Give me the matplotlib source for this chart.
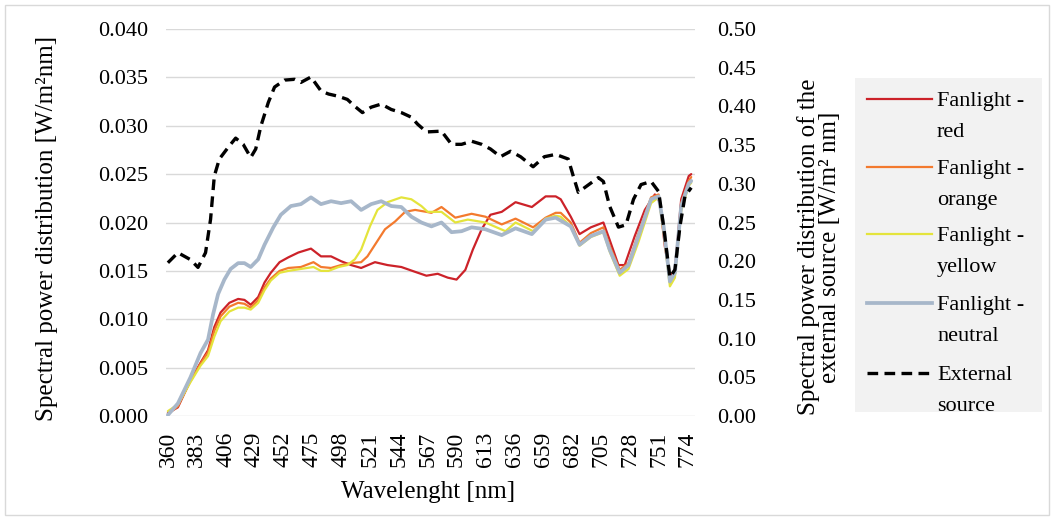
import matplotlib
matplotlib.use("Agg")
import matplotlib.pyplot as plt
from matplotlib.lines import Line2D
from matplotlib.patches import Rectangle

plt.rcParams["font.family"] = ["Liberation Serif", "DejaVu Serif"]

# wavelength [nm] / value pairs, one set per series
red_wl = [360, 368, 378, 386, 392, 397, 402, 409, 416, 421, 426, 432, 437, 442, 449, 456, 464, 474, 482, 490,
          498, 506, 514, 525, 535, 546, 557, 566, 575, 583, 590, 597, 603, 610, 617, 626, 637, 650, 661, 669,
          673, 681, 688, 697, 707, 712, 719, 724, 732, 740, 748, 752, 756, 760, 764, 769, 775, 777]
red_val = [0.0003, 0.0009, 0.0037, 0.0055, 0.0068, 0.0092, 0.0107, 0.0117, 0.0121, 0.0120,
           0.0115, 0.0123, 0.0138, 0.0148, 0.0159, 0.0164, 0.0169, 0.0173, 0.0165, 0.0165,
           0.0160, 0.0156, 0.0153, 0.0159, 0.0156, 0.0154, 0.0149, 0.0145, 0.0147, 0.0143,
           0.0141, 0.0151, 0.0172, 0.0193, 0.0208, 0.0211, 0.0221, 0.0216, 0.0227, 0.0227,
           0.0224, 0.0206, 0.0188, 0.0195, 0.0200, 0.0182, 0.0156, 0.0156, 0.0186, 0.0213,
           0.0229, 0.0221, 0.0175, 0.0144, 0.0151, 0.0224, 0.0248, 0.0250]

orange_wl = [360, 368, 378, 386, 392, 397, 402, 409, 416, 421, 426, 432, 437, 442, 449, 456, 466, 476, 482, 490,
             498, 506, 514, 519, 525, 533, 541, 549, 557, 566, 570, 578, 589, 602, 613, 626, 637, 651, 661, 669,
             673, 681, 688, 697, 707, 712, 720, 727, 735, 745, 751, 755, 760, 764, 769, 775, 777]
orange_val = [0.0002, 0.0010, 0.0036, 0.0054, 0.0066, 0.0088, 0.0103, 0.0113, 0.0117, 0.0116,
              0.0112, 0.0120, 0.0133, 0.0142, 0.0150, 0.0153, 0.0154, 0.0159, 0.0154, 0.0153,
              0.0156, 0.0158, 0.0159, 0.0165, 0.0177, 0.0193, 0.0201, 0.0211, 0.0213, 0.0211,
              0.0210, 0.0216, 0.0205, 0.0209, 0.0206, 0.0198, 0.0204, 0.0195, 0.0205, 0.0210,
              0.0210, 0.0200, 0.0179, 0.0189, 0.0195, 0.0176, 0.0151, 0.0158, 0.0189, 0.0226,
              0.0229, 0.0196, 0.0140, 0.0149, 0.0220, 0.0243, 0.0247]

yellow_wl = [360, 368, 378, 386, 392, 397, 402, 409, 416, 421, 426, 432, 437, 442, 449, 456, 466, 476, 482, 488,
             496, 503, 509, 514, 521, 527, 535, 546, 554, 562, 567, 578, 589, 599, 613, 629, 637, 651, 661, 669,
             673, 681, 688, 697, 707, 712, 720, 727, 735, 745, 751, 755, 760, 764, 769, 775, 777]
yellow_val = [0.0005, 0.0012, 0.0035, 0.0052, 0.0062, 0.0082, 0.0098, 0.0108, 0.0112, 0.0112,
              0.0110, 0.0117, 0.0130, 0.0140, 0.0148, 0.0150, 0.0152, 0.0154, 0.0150, 0.0150,
              0.0154, 0.0156, 0.0162, 0.0172, 0.0196, 0.0213, 0.0221, 0.0226, 0.0224, 0.0217,
              0.0211, 0.0211, 0.0200, 0.0203, 0.0200, 0.0191, 0.0200, 0.0191, 0.0204, 0.0207,
              0.0206, 0.0196, 0.0176, 0.0185, 0.0190, 0.0170, 0.0145, 0.0152, 0.0180, 0.0220,
              0.0226, 0.0190, 0.0134, 0.0143, 0.0212, 0.0238, 0.0241]

neutral_wl = [360, 368, 378, 386, 392, 396, 400, 405, 410, 416, 421, 426, 432, 437, 444, 450, 458, 466, 474, 482,
              490, 498, 506, 514, 522, 530, 538, 546, 554, 562, 570, 578, 586, 594, 602, 613, 626, 637, 650, 661,
              669, 681, 688, 697, 707, 712, 720, 727, 735, 745, 751, 755, 760, 764, 769, 775, 777]
neutral_val = [0.0001, 0.0013, 0.0040, 0.0065, 0.0079, 0.0105, 0.0126, 0.0141, 0.0152, 0.0158,
               0.0158, 0.0154, 0.0162, 0.0177, 0.0195, 0.0208, 0.0217, 0.0219, 0.0226, 0.0219,
               0.0222, 0.0220, 0.0222, 0.0213, 0.0219, 0.0222, 0.0217, 0.0216, 0.0206, 0.0200,
               0.0196, 0.0200, 0.0190, 0.0191, 0.0195, 0.0193, 0.0187, 0.0194, 0.0188, 0.0203,
               0.0205, 0.0196, 0.0177, 0.0186, 0.0191, 0.0172, 0.0148, 0.0156, 0.0186, 0.0224,
               0.0227, 0.0196, 0.0139, 0.0148, 0.0217, 0.0240, 0.0243]

# external source, right axis
ext_wl = [360, 368, 378, 384, 390, 394, 397, 401, 408, 414, 420, 426, 430, 434, 440, 445, 453, 461, 466, 474,
          482, 488, 496, 503, 509, 515, 522, 530, 538, 546, 554, 559, 566, 578, 586, 594, 602, 610, 617, 625,
          633, 641, 651, 660, 669, 679, 683, 687, 692, 703, 707, 712, 719, 725, 731, 737, 745, 751, 755, 760,
          764, 768, 772, 777]
ext_val = [0.198, 0.211, 0.202, 0.192, 0.211, 0.254, 0.310, 0.332, 0.347, 0.359,
           0.351, 0.334, 0.345, 0.374, 0.405, 0.425, 0.434, 0.435, 0.431, 0.438,
           0.420, 0.416, 0.413, 0.409, 0.400, 0.392, 0.399, 0.403, 0.396, 0.392,
           0.386, 0.377, 0.367, 0.368, 0.351, 0.351, 0.355, 0.351, 0.345, 0.335,
           0.342, 0.335, 0.322, 0.335, 0.338, 0.332, 0.310, 0.289, 0.295, 0.308,
           0.303, 0.271, 0.244, 0.247, 0.280, 0.299, 0.303, 0.290, 0.245, 0.179,
           0.189, 0.245, 0.284, 0.295]

x_ticks = [360, 383, 406, 429, 452, 475, 498, 521, 544, 567, 590, 613, 636, 659, 682, 705, 728, 751, 774]
left_ticks = [0.000, 0.005, 0.010, 0.015, 0.020, 0.025, 0.030, 0.035, 0.040]
right_ticks = [0.00, 0.05, 0.10, 0.15, 0.20, 0.25, 0.30, 0.35, 0.40, 0.45, 0.50]

legend_labels = ["Fanlight -\nred", "Fanlight -\norange", "Fanlight -\nyellow",
                 "Fanlight -\nneutral", "External\nsource"]

W, H = 1054, 520
fig = plt.figure(figsize=(W / 100, H / 100), dpi=100)
fig.patches.append(Rectangle((5 / W, 5 / H), 1 - 10 / W, 1 - 10 / H, transform=fig.transFigure,
                             fill=False, edgecolor="#d9d9d9", lw=1))

ax = fig.add_axes([166 / W, 1 - 416 / H, (695 - 166) / W, (416 - 29) / H])

styles = [
    dict(color="#cc2229", lw=1.6),
    dict(color="#f37a2e", lw=1.6),
    dict(color="#e4e43c", lw=1.6),
    dict(color="#a7b7ca", lw=2.7),
    dict(color="black", lw=2.4, ls=(0, (3.2, 1.9)), dash_capstyle="butt"),
]

for wl, val, st in zip([red_wl, orange_wl, yellow_wl, neutral_wl],
                       [red_val, orange_val, yellow_val, neutral_val], styles):
    ax.plot(wl, val, solid_capstyle="round", **st)

ax.set_xlim(358.5, 780)
ax.set_ylim(0, 0.04)
ax.set_xticks(x_ticks)
ax.set_xticklabels([str(v) for v in x_ticks], rotation=90, fontsize=17)
ax.set_yticks(left_ticks)
ax.set_yticklabels([f"{v:.3f}" for v in left_ticks], fontsize=16)
ax.yaxis.grid(True, color="#d9d9d9", lw=1)
ax.set_axisbelow(True)
for s in ax.spines.values():
    s.set_visible(False)
ax.tick_params(axis="y", length=0, pad=13)
ax.tick_params(axis="x", length=0, pad=11)

ax2 = ax.twinx()
ax2.plot(ext_wl, ext_val, **styles[4])
ax2.set_ylim(0, 0.5)
ax2.set_yticks(right_ticks)
ax2.set_yticklabels([f"{v:.2f}" for v in right_ticks], fontsize=16)
for s in ax2.spines.values():
    s.set_visible(False)
ax2.tick_params(axis="y", length=0, pad=16)

fig.text(428 / W, 1 - 492 / H, "Wavelenght [nm]", ha="center", va="center", fontsize=18)
fig.text(47 / W, 1 - 228 / H, "Spectral power distribution [W/m²nm]", rotation=90,
         ha="center", va="center", fontsize=18)
fig.text(819 / W, 1 - 247 / H, "Spectral power distribution of the\nexternal source [W/m² nm]",
         rotation=90, ha="center", va="center", fontsize=18, linespacing=0.95)

# legend box drawn by hand so the key sits on the first text line
fig.patches.append(Rectangle((855 / W, 1 - 412 / H), (1042 - 855) / W, (412 - 78) / H,
                             transform=fig.transFigure, facecolor="#f2f2f2", edgecolor="none"))
entry_y = [99, 167, 234, 303, 373]
for y, lab, st in zip(entry_y, legend_labels, styles):
    fig.lines.append(Line2D([867 / W, 932 / W], [1 - y / H, 1 - y / H],
                            transform=fig.transFigure, **st))
    first, second = lab.split("\n")
    fig.text(937 / W, 1 - y / H, first, ha="left", va="center_baseline", fontsize=16)
    fig.text(937 / W, 1 - (y + 31) / H, second, ha="left", va="center_baseline", fontsize=16)

fig.savefig("out.png", dpi=100)
